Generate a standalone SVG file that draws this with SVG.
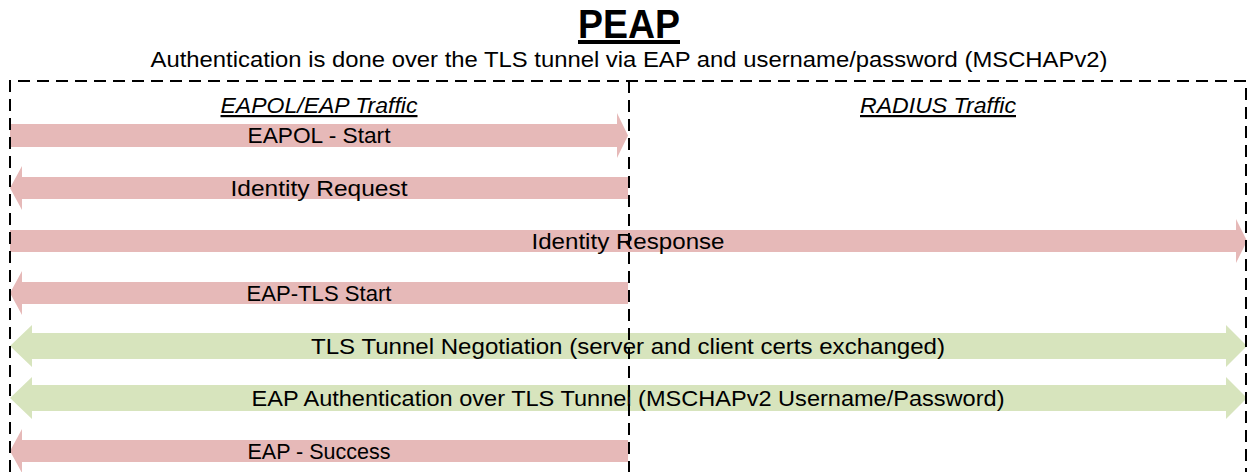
<svg xmlns="http://www.w3.org/2000/svg" width="1248" height="472" viewBox="0 0 1248 472">
<style>
.t{font-family:"Liberation Sans",Arial,sans-serif;fill:#000;text-anchor:middle}
.lbl{font-size:22px}
.hdr{font-size:22px;font-style:italic;text-decoration:underline}
.red{fill:#E6B9B8}
.grn{fill:#D7E4BD}
.frame{fill:none;stroke:#000;stroke-width:2;stroke-dasharray:12 7}
</style>
<rect width="1248" height="472" fill="#fff"/>
<g id="title">
<text class="t" x="629" y="38" font-size="40" font-weight="bold" text-decoration="underline" textLength="102" lengthAdjust="spacingAndGlyphs">PEAP</text>
<text class="t" x="629" y="67" font-size="22" textLength="957" lengthAdjust="spacingAndGlyphs">Authentication is done over the TLS tunnel via EAP and username/password (MSCHAPv2)</text>
</g>
<g id="connectors">
<polygon id="a1" class="red" points="10,124 617,124 617,113 628,135.5 617,158 617,147 10,147"/>
<polygon id="a2" class="red" points="628,177 22,177 22,166 10,188 22,210 22,199 628,199"/>
<polygon id="a3" class="red" points="10,230 1236,230 1236,219 1247,241 1236,263 1236,252 10,252"/>
<polygon id="a4" class="red" points="628,282 22,282 22,271 10,293 22,315 22,304 628,304"/>
<polygon id="a5" class="grn" points="10,346 32,325 32,333 1226,333 1226,325 1247,346 1226,367 1226,359 32,359 32,367"/>
<polygon id="a6" class="grn" points="10,398 32,377 32,385 1226,385 1226,377 1247,398 1226,419 1226,411 32,411 32,419"/>
<polygon id="a7" class="red" points="628,440 22,440 22,429 10,451 22,473 22,462 628,462"/>
</g>
<g id="frame">
<path class="frame" d="M10,472 V81 H1246 V472"/>
<path class="frame" d="M629,81 V472"/>
</g>
<g id="hdr-eapol"><text class="t hdr" x="319" y="113" textLength="197" lengthAdjust="spacingAndGlyphs">EAPOL/EAP Traffic</text></g>
<g id="hdr-radius"><text class="t hdr" x="938" y="113" textLength="156" lengthAdjust="spacingAndGlyphs">RADIUS Traffic</text></g>
<g id="labels">
<text class="t lbl" x="319" y="143" textLength="143" lengthAdjust="spacingAndGlyphs">EAPOL - Start</text>
<text class="t lbl" x="319" y="196" textLength="177" lengthAdjust="spacingAndGlyphs">Identity Request</text>
<text class="t lbl" x="628" y="249" textLength="193" lengthAdjust="spacingAndGlyphs">Identity Response</text>
<text class="t lbl" x="319" y="301" textLength="145" lengthAdjust="spacingAndGlyphs">EAP-TLS Start</text>
<text class="t lbl" x="628" y="354" textLength="634" lengthAdjust="spacingAndGlyphs">TLS Tunnel Negotiation (server and client certs exchanged)</text>
<text class="t lbl" x="628" y="406" textLength="753" lengthAdjust="spacingAndGlyphs">EAP Authentication over TLS Tunnel (MSCHAPv2 Username/Password)</text>
<text class="t lbl" x="319" y="459" textLength="143" lengthAdjust="spacingAndGlyphs">EAP - Success</text>
</g>
</svg>
